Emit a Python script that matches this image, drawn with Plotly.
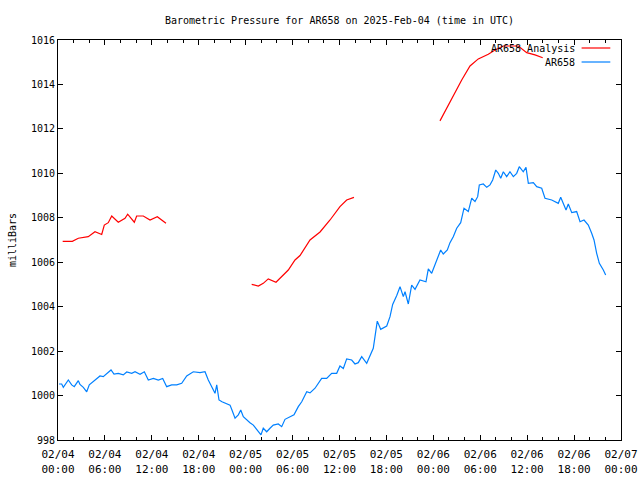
import pandas as pd
import plotly.graph_objects as go

# ---- data (hours after 2025-02-04 00:00 UTC, pressure in mb) ----
obs_hours = [0.13, 0.47, 0.68, 1.02, 1.32, 1.75, 2.08, 2.60, 2.81, 3.24, 3.67, 4.00, 4.51, 4.95,
             5.37, 5.79, 6.23, 6.78, 7.16, 7.71, 8.35, 8.79, 9.43, 9.85, 10.49, 11.04, 11.55,
             12.19, 12.83, 13.39, 13.90, 14.54, 15.18, 15.82, 16.46, 17.30, 18.16, 18.80, 19.22,
             19.66, 20.08, 20.30, 20.59, 20.97, 21.36, 21.57, 22.00, 22.21, 22.64, 23.06, 23.37,
             23.70, 24.13, 24.55, 24.98, 25.32, 25.74, 25.96, 26.25, 26.69, 27.11, 27.53, 28.17,
             28.61, 29.03, 29.67, 30.18, 30.73, 31.17, 31.81, 32.23, 32.87, 33.29, 33.72, 34.36,
             35.00, 35.64, 36.06, 36.49, 36.92, 37.56, 37.98, 38.40, 38.84, 39.48, 39.90, 40.32,
             40.54, 40.83, 41.27, 42.04, 42.46, 42.80, 43.32, 43.74, 44.16, 44.38, 44.80, 45.23,
             45.66, 46.29, 47.06, 47.36, 47.79, 48.43, 48.94, 49.27, 49.79, 50.13, 50.55, 50.99,
             51.50, 51.92, 52.47, 52.91, 53.33, 53.67, 53.88, 54.39, 54.83, 55.25, 55.59, 55.98,
             56.31, 56.62, 56.95, 57.38, 57.80, 58.23, 58.66, 58.99, 59.50, 59.85, 60.15, 60.79,
             61.22, 61.86, 62.28, 63.14, 63.98, 64.29, 64.97, 65.26, 65.70, 66.33, 66.76, 67.27,
             67.82, 68.25, 68.55, 68.89, 69.23, 69.74, 70.04]
obs_mb = [1000.52, 1000.52, 1000.37, 1000.52, 1000.70, 1000.48, 1000.40, 1000.67, 1000.50, 1000.37,
          1000.17, 1000.48, 1000.62, 1000.77, 1000.88, 1000.85, 1001.00, 1001.15, 1000.97, 1001.00,
          1000.93, 1001.06, 1001.00, 1001.07, 1000.96, 1001.07, 1000.70, 1000.77, 1000.70, 1000.77,
          1000.40, 1000.48, 1000.48, 1000.55, 1000.88, 1001.07, 1001.03, 1001.07, 1000.70, 1000.40,
          1000.10, 1000.48, 999.80, 999.72, 999.65, 999.62, 999.57, 999.38, 998.98, 999.13,
          999.35, 999.05, 998.90, 998.78, 998.67, 998.53, 998.37, 998.23, 998.53, 998.37,
          998.53, 998.67, 998.72, 998.60, 998.93, 999.05, 999.13, 999.50, 999.72, 1000.17,
          1000.12, 1000.33, 1000.55, 1000.77, 1000.77, 1001.00, 1001.00, 1001.33, 1001.22, 1001.65,
          1001.60, 1001.42, 1001.48, 1001.75, 1001.45, 1001.83, 1002.13, 1002.65, 1003.35, 1002.98,
          1003.13, 1003.55, 1004.10, 1004.50, 1004.90, 1004.45, 1004.67, 1004.12, 1004.97, 1004.78,
          1005.20, 1005.12, 1005.70, 1005.50, 1006.10, 1006.55, 1006.37, 1006.55, 1006.88, 1007.15,
          1007.53, 1007.78, 1008.43, 1008.28, 1008.88, 1008.73, 1008.95, 1009.48, 1009.52, 1009.37,
          1009.48, 1009.70, 1010.15, 1010.00, 1009.78, 1010.07, 1009.85, 1010.07, 1009.85, 1010.00,
          1010.30, 1010.07, 1010.27, 1009.55, 1009.58, 1009.40, 1009.33, 1008.88, 1008.80, 1008.65,
          1008.92, 1008.35, 1008.62, 1008.23, 1008.28, 1007.82, 1007.90, 1007.67, 1007.30, 1007.00,
          1006.40, 1005.95, 1005.65, 1005.43]

# analysis: None marks gaps between runs
ana_hours = [0.60, 1.83, 2.60, 3.87, 4.73, 5.59, 5.92, 6.43, 6.87, 7.71, 8.57, 8.91, 9.76, 10.06,
             10.91, 11.77, 12.70, 13.81, 19.0,
             24.77, 25.62, 26.25, 26.89, 27.88, 28.61, 29.45, 30.31, 30.95, 32.23, 33.51, 34.79,
             36.06, 36.92, 37.85, 43.0,
             48.85, 49.71, 50.77, 51.63, 52.69, 53.75, 55.03, 55.89, 56.95, 58.87, 59.94, 61.00,
             61.99]
ana_mb = [1006.94, 1006.94, 1007.08, 1007.15, 1007.37, 1007.25, 1007.67, 1007.78, 1008.08, 1007.80,
          1007.98, 1008.16, 1007.80, 1008.08, 1008.08, 1007.90, 1008.05, 1007.75, None,
          1005.00, 1004.93, 1005.05, 1005.25, 1005.10, 1005.35, 1005.65, 1006.10, 1006.30, 1007.00,
          1007.36, 1007.90, 1008.50, 1008.80, 1008.92, None,
          1012.36, 1012.93, 1013.60, 1014.20, 1014.83, 1015.15, 1015.36, 1015.55, 1015.73, 1015.73,
          1015.43, 1015.33, 1015.20]

series_names = ["AR658 Analysis", "AR658"]
series_colors = ["#ff0000", "#0080ff"]

base = pd.Timestamp("2025-02-04 00:00:00")
obs_x = [base + pd.Timedelta(hours=h) for h in obs_hours]
ana_x = [base + pd.Timedelta(hours=h) for h in ana_hours]

FONT = "DejaVu Sans Mono"

fig = go.Figure()
fig.add_trace(go.Scatter(x=ana_x, y=ana_mb, mode="lines", name=series_names[0],
                         line=dict(color=series_colors[0], width=1.2), connectgaps=False))
fig.add_trace(go.Scatter(x=obs_x, y=obs_mb, mode="lines", name=series_names[1],
                         line=dict(color=series_colors[1], width=1.2)))

# gnuplot-style legend: text right-aligned, sample line to the right
for i, (nm, col) in enumerate(zip(series_names, series_colors)):
    yy = 0.98 - i * 0.035
    fig.add_annotation(x=0.918, y=yy, xref="paper", yref="paper", text=nm, showarrow=False,
                       xanchor="right", yanchor="middle", xshift=2,
                       font=dict(family=FONT, size=10, color="black"))
    fig.add_shape(type="line", xref="paper", yref="paper", x0=0.930, x1=0.981, y0=yy, y1=yy,
                  line=dict(color=col, width=1.2))

fig.update_layout(
    width=640, height=480,
    margin=dict(l=58, r=19, t=40, b=40, autoexpand=False),
    paper_bgcolor="white", plot_bgcolor="white",
    showlegend=False,
    font=dict(family=FONT, size=10, color="black"),
    title=dict(text="Barometric Pressure for AR658 on 2025-Feb-04 (time in UTC)",
               x=0.5, xref="paper", xanchor="center", y=1 - 20 / 480, yanchor="middle",
               font=dict(family=FONT, size=10, color="black")),
)
fig.update_xaxes(
    type="date", range=[base, base + pd.Timedelta(hours=72)], automargin=False,
    dtick=6 * 3600 * 1000, tick0=base, tickformat="%m/%d<br>%H:%M",
    showline=True, linecolor="black", linewidth=1, mirror="ticks",
    ticks="inside", ticklen=5, tickcolor="black", tickwidth=1, ticklabelstandoff=4,
    minor=dict(dtick=2 * 3600 * 1000, ticks="inside", ticklen=3, tickcolor="black", showgrid=False),
    showgrid=False, zeroline=False,
    tickfont=dict(family=FONT, size=11, color="black"),
)
fig.update_yaxes(
    range=[998, 1016], dtick=2, tickformat="d", automargin=False,
    showline=True, linecolor="black", linewidth=1, mirror="ticks",
    ticks="inside", ticklen=5, tickcolor="black", tickwidth=1,
    showgrid=False, zeroline=False,
    title=dict(text="milliBars", font=dict(family=FONT, size=10, color="black"), standoff=12),
    tickfont=dict(family=FONT, size=10, color="black"),
)

fig.write_html("out.html")
